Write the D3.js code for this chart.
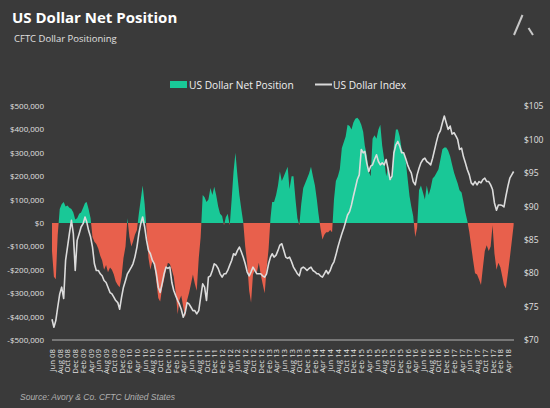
<!DOCTYPE html>
<html><head><meta charset="utf-8">
<script src="https://cdn.jsdelivr.net/npm/d3@7"></script>
<style>
html,body{margin:0;padding:0;background:#3a3a3a;}
svg{display:block;font-family:"Open Sans",sans-serif;}
</style></head><body>
<svg id="chart" width="550" height="408"></svg>
<script>
// x-axis category labels (every two months)
const tickLabels = [
 "Jun 08","Aug 08","Oct 08","Dec 08",
 "Feb 09","Apr 09","Jun 09","Aug 09","Oct 09","Dec 09",
 "Feb 10","Apr 10","Jun 10","Aug 10","Oct 10","Dec 10",
 "Feb 11","Apr 11","Jun 11","Aug 11","Oct 11","Dec 11",
 "Feb 12","Apr 12","Jun 12","Aug 12","Oct 12","Dec 12",
 "Feb 13","Apr 13","Jun 13","Aug 13","Oct 13","Dec 13",
 "Feb 14","Apr 14","Jun 14","Aug 14","Oct 14","Dec 14",
 "Feb 15","Apr 15","Jun 15","Aug 15","Oct 15","Dec 15",
 "Feb 16","Apr 16","Jun 16","Aug 16","Oct 16","Dec 16",
 "Feb 17","Apr 17","Jun 17","Aug 17","Oct 17","Dec 17",
 "Feb 18","Apr 18"
];
// first observation; observations are semi-monthly (1st and 16th)
const firstPeriod = "2008-06-01";

// US Dollar net position (thousands of $)
const netPositionK = [
 -120,-230,-240,-50,60,80,90,70,75,65,
 60,45,15,20,40,45,65,85,90,60,
 20,-60,-80,-90,-110,-140,-160,-200,-180,-210,
 -190,-200,-220,-250,-265,-275,-230,-150,-100,20,
 -60,-100,-80,-50,-30,40,100,160,80,-30,
 -150,-200,-160,-180,-250,-320,-335,-280,-240,-200,
 -170,-175,-200,-230,-300,-390,-330,-310,-360,-400,
 -330,-300,-260,-220,-260,-290,-150,-60,120,110,
 90,100,150,120,155,120,70,40,30,-10,
 25,40,-10,100,220,300,200,120,60,5,
 -100,-170,-290,-340,-220,-200,-210,-170,-220,-260,
 -300,-200,-110,20,90,90,120,160,220,180,
 200,220,240,145,200,200,100,20,-10,80,
 150,170,190,210,240,200,160,100,40,-20,
 -70,-50,-40,-40,-30,-40,100,180,200,230,
 320,345,370,420,415,400,430,445,450,440,
 420,390,330,290,220,200,360,375,360,400,
 420,330,270,200,240,185,190,330,400,400,
 370,315,300,270,190,115,70,30,-60,-20,
 140,160,130,100,160,120,150,190,200,215,
 230,270,315,323,323,310,285,250,215,190,
 170,140,130,90,45,10,-40,-100,-160,-215,
 -220,-240,-265,-190,-120,-95,-120,-100,-10,-130,
 -200,-170,-190,-230,-265,-280,-215,-150,-80,-10
];
// US Dollar Index
const dollarIndex = [
 73.1,71.9,72.9,74.9,76.9,77.9,76.2,81.9,83.9,85.9,
 87.9,85.9,80.4,84.9,85.9,86.9,87.4,88.4,87.7,86.4,
 85.4,83.9,81.4,80.4,80.4,79.9,79.6,78.9,78.6,77.9,
 77.1,76.9,76.4,75.9,75.6,74.6,76.4,77.9,78.9,79.9,
 80.4,80.9,81.4,82.4,83.9,85.9,87.4,88.4,86.9,84.9,
 83.4,82.9,81.9,81.4,79.9,77.9,77.1,78.4,79.9,80.9,
 80.7,80.9,78.6,77.4,76.6,75.9,75.4,74.6,73.4,74.1,
 75.6,75.4,74.9,74.4,74.4,73.9,74.4,76.4,78.4,77.9,
 75.9,79.4,79.6,80.4,81.4,81.2,80.7,79.9,79.4,79.9,
 79.9,80.4,81.2,81.9,82.9,82.7,83.4,83.9,83.2,82.4,
 81.4,80.2,79.6,80.2,80.9,80.4,79.9,79.9,79.9,79.6,
 79.4,79.9,81.4,82.4,82.9,82.4,82.7,83.4,84.2,84.4,
 83.4,82.4,82.2,82.4,81.7,80.9,80.4,79.9,79.6,80.7,
 80.9,80.7,80.4,80.7,80.9,80.4,80.2,79.9,79.9,79.6,
 79.4,79.9,80.4,79.9,80.4,81.2,81.7,82.7,83.9,84.9,
 85.9,86.7,87.7,88.7,89.2,90.2,91.5,92.7,94.0,94.7,
 98.5,98.0,98.2,96.5,95.2,96.0,96.2,97.0,97.7,96.7,
 96.2,96.5,96.2,97.0,95.5,94.0,94.5,98.0,99.2,99.7,
 99.0,98.0,98.0,97.2,96.2,95.5,95.0,93.7,93.2,94.7,
 95.7,96.5,97.0,97.2,96.7,96.5,96.2,97.2,98.5,99.7,
 100.8,101.3,102.5,103.5,102.5,101.5,102.0,100.8,101.0,100.5,
 100.0,98.5,98.7,97.4,96.5,95.5,94.7,93.5,93.2,93.7,
 93.2,93.7,93.5,94.0,94.2,93.7,93.7,93.2,92.5,90.5,
 89.4,90.2,90.2,90.1,89.9,91.5,93.0,94.2,94.7,95.2
];
const leftTicks = [-500,-400,-300,-200,-100,0,100,200,300,400,500];
const rightTicks = [70,75,80,85,90,95,100,105];

const svg = d3.select("#chart");
const W = 550, H = 408;
svg.append("rect").attr("width", W).attr("height", H).attr("fill", "#3a3a3a");

const start = d3.timeParse("%Y-%m-%d")(firstPeriod);
const dates = netPositionK.map((_, i) => {
  const m = d3.timeMonth.offset(start, Math.floor(i / 2));
  return i % 2 ? d3.timeDay.offset(m, 15) : m;
});
const parseTick = d3.timeParse("%b %y");
const tickDates = tickLabels.map(parseTick);

const x = d3.scaleTime()
  .domain([start, d3.timeDay.offset(d3.timeMonth.offset(start, 119), 18)])
  .range([52, 514]);
const yL = d3.scaleLinear().domain([-500, 500]).range([340, 106]);
const yR = d3.scaleLinear().domain([70, 105]).range([340, 106]);

// Title, subtitle
svg.append("text").attr("x", 12).attr("y", 23)
  .attr("fill", "#ffffff").attr("font-size", 15).attr("font-weight", 700)
  .text("US Dollar Net Position");
svg.append("text").attr("x", 14).attr("y", 42)
  .attr("fill", "#e0e0e0").attr("font-size", 9.5)
  .text("CFTC Dollar Positioning");

// Logo
const logo = svg.append("g").attr("stroke", "#c8c8c8").attr("stroke-width", 2).attr("stroke-linecap", "butt");
logo.append("line").attr("x1", 514).attr("y1", 35).attr("x2", 522.5).attr("y2", 15);
logo.append("line").attr("x1", 528.5).attr("y1", 28).attr("x2", 533).attr("y2", 35);

// Legend
const lg = svg.append("g").attr("font-size", 10.2).attr("fill", "#ffffff");
lg.append("rect").attr("x", 170).attr("y", 81).attr("width", 17).attr("height", 7).attr("fill", "#19c897");
lg.append("text").attr("x", 189).attr("y", 88.5).attr("fill", "#f0f0f0").text("US Dollar Net Position");
lg.append("line").attr("x1", 315).attr("x2", 332).attr("y1", 84.5).attr("y2", 84.5)
  .attr("stroke", "#d9d9d9").attr("stroke-width", 2);
lg.append("text").attr("x", 333).attr("y", 88.5).attr("fill", "#f0f0f0").text("US Dollar Index");

// Areas (green above zero, red below) using clip paths
const defs = svg.append("defs");
defs.append("clipPath").attr("id", "above").append("rect")
  .attr("x", 0).attr("y", 0).attr("width", W).attr("height", yL(0));
defs.append("clipPath").attr("id", "below").append("rect")
  .attr("x", 0).attr("y", yL(0)).attr("width", W).attr("height", H - yL(0));
const area = d3.area()
  .x((d, i) => x(dates[i]))
  .y0(yL(0))
  .y1(d => yL(d));
svg.append("path").datum(netPositionK).attr("d", area)
  .attr("fill", "#19c897").attr("clip-path", "url(#above)");
svg.append("path").datum(netPositionK).attr("d", area)
  .attr("fill", "#e8604c").attr("clip-path", "url(#below)");

// Index line
const line = d3.line().x((d, i) => x(dates[i])).y(d => yR(d));
svg.append("path").datum(dollarIndex).attr("d", line)
  .attr("fill", "none").attr("stroke", "#dcdcdc").attr("stroke-width", 1.6)
  .attr("stroke-linejoin", "round");

// Bottom axis line
svg.append("line").attr("x1", 52).attr("x2", 514).attr("y1", 340).attr("y2", 340)
  .attr("stroke", "#8c8c8c").attr("stroke-width", 1.5);

// Left axis
const fmtL = v => (v < 0 ? "-" : "") + "$" + d3.format(",")(Math.abs(v) * 1000);
const gL = svg.append("g").attr("transform", "translate(44,0)")
  .call(d3.axisLeft(yL).tickValues(leftTicks).tickFormat(fmtL).tickSize(0).tickPadding(0));
gL.select(".domain").remove();
gL.selectAll("text").attr("fill", "#e0e0e0").attr("font-size", 8).attr("font-family", "Open Sans");

// Right axis
const gR = svg.append("g").attr("transform", "translate(524,0)")
  .call(d3.axisRight(yR).tickValues(rightTicks).tickFormat(v => "$" + v).tickSize(0).tickPadding(0));
gR.select(".domain").remove();
gR.selectAll("text").attr("fill", "#e0e0e0").attr("font-size", 8.5).attr("font-family", "Open Sans");

// Bottom axis labels
const gB = svg.append("g").attr("transform", "translate(0,340)")
  .call(d3.axisBottom(x).tickValues(tickDates).tickFormat((d, i) => tickLabels[i]).tickSize(0));
gB.select(".domain").remove();
gB.selectAll("text")
  .attr("transform", "rotate(-90)")
  .attr("text-anchor", "end")
  .attr("x", -9).attr("y", 0).attr("dy", "0.32em")
  .attr("fill", "#e0e0e0").attr("font-size", 7.8).attr("font-family", "Open Sans");

// Source
svg.append("text").attr("x", 20).attr("y", 400)
  .attr("fill", "#b0b0b0").attr("font-size", 8.5).attr("font-style", "italic")
  .attr("font-family", "Liberation Sans, Arial, sans-serif")
  .text("Source: Avory & Co. CFTC United States");
</script>
</body></html>
